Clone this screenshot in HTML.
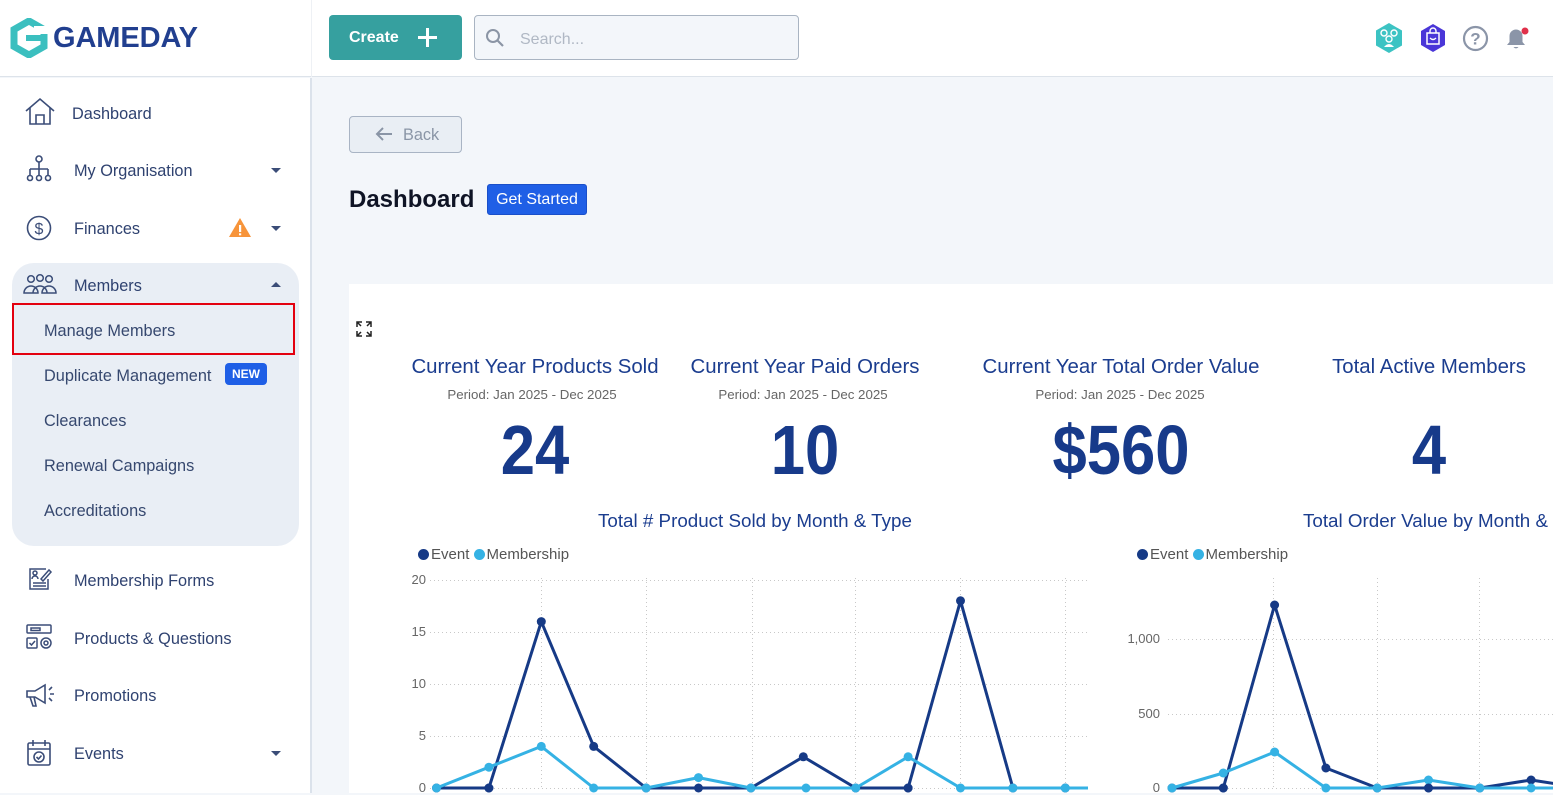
<!DOCTYPE html>
<html><head><meta charset="utf-8">
<style>
*{margin:0;padding:0;box-sizing:border-box}
body{width:1553px;height:793px;overflow:hidden;background:#f3f6fa;font-family:"Liberation Sans",sans-serif;position:relative}
.a{position:absolute;white-space:nowrap}
.nav{position:absolute;font-size:16.3px;color:#2f4270;line-height:20px;white-space:nowrap}
.sub{position:absolute;font-size:16.3px;color:#36486f;line-height:20px;white-space:nowrap}
.kt{position:absolute;font-size:20.4px;color:#1b3d8f;text-align:center;line-height:24px;white-space:nowrap}
.kp{position:absolute;font-size:13.3px;color:#666;text-align:center;line-height:16px;white-space:nowrap}
.kn{position:absolute;font-size:70px;font-weight:bold;color:#173a8a;text-align:center;line-height:70px;white-space:nowrap;transform:scaleX(0.88)}
.yl{position:absolute;font-size:13px;color:#666;text-align:right;line-height:14px;width:60px}
</style></head><body>

<!-- header -->
<div class="a" style="left:0;top:0;width:1553px;height:77px;background:#fff;border-bottom:1px solid #dde3ea"></div>
<div class="a" style="left:311px;top:0;width:1px;height:77px;background:#eef1f5"></div>
<!-- sidebar -->
<div class="a" style="left:0;top:78px;width:310px;height:715px;background:#fff"></div>
<div class="a" style="left:310px;top:78px;width:2px;height:715px;background:#dbe2eb"></div>

<!-- logo -->
<svg class="a" style="left:10px;top:18px" width="38" height="40" viewBox="0 0 38 40">
<polygon points="19,3 34,11.5 34,28.5 19,37 4,28.5 4,11.5" fill="none" stroke="#3bbfbf" stroke-width="7"/>
<rect x="16" y="17" width="18" height="6" fill="#3bbfbf"/>
<rect x="24" y="8" width="14" height="8" fill="#fff"/>
</svg>
<div class="a" style="left:53px;top:21px;font-size:29px;font-weight:bold;color:#213f8f;line-height:34px;letter-spacing:-0.1px">GAMEDAY</div>

<!-- create -->
<div class="a" style="left:329px;top:15px;width:133px;height:45px;background:#36a09f;border-radius:4px"></div>
<div class="a" style="left:349px;top:28px;font-size:16px;font-weight:bold;color:#fff;line-height:20px">Create</div>
<div class="a" style="left:418px;top:36px;width:19px;height:2.5px;background:#fff"></div>
<div class="a" style="left:426px;top:28px;width:2.5px;height:19px;background:#fff"></div>
<!-- search -->
<div class="a" style="left:474px;top:15px;width:325px;height:45px;border:1px solid #a9b4c2;border-radius:4px;background:#f3f6fa"></div>
<svg class="a" style="left:485px;top:28px" width="20" height="20"><circle cx="8" cy="8" r="6" fill="none" stroke="#8b95a5" stroke-width="2"/><line x1="12.5" y1="12.5" x2="18" y2="18" stroke="#8b95a5" stroke-width="2.2"/></svg>
<div class="a" style="left:520px;top:30px;font-size:16px;color:#b0b8c4;line-height:20px">Search...</div>

<!-- right icons -->
<svg class="a" style="left:1374px;top:22px" width="30" height="32" viewBox="0 0 30 32">
<polygon points="15,1 28,8.5 28,23.5 15,31 2,23.5 2,8.5" fill="#3cc3c3"/>
<circle cx="10" cy="11" r="3" fill="none" stroke="#fff" stroke-width="1.4"/><circle cx="20" cy="11" r="3" fill="none" stroke="#fff" stroke-width="1.4"/><circle cx="15" cy="17" r="3" fill="none" stroke="#fff" stroke-width="1.4"/>
<path d="M10 25 q5 -6 10 0" fill="#fff"/>
</svg>
<svg class="a" style="left:1419px;top:23px" width="28" height="30" viewBox="0 0 28 30">
<polygon points="14,1 26,8 26,22 14,29 2,22 2,8" fill="#4a36d8"/>
<rect x="8" y="10" width="12" height="11" fill="none" stroke="#fff" stroke-width="1.5"/>
<path d="M11 10 v-2 a3 3 0 0 1 6 0 v2" fill="none" stroke="#fff" stroke-width="1.4"/>
<path d="M11 15 q3 3 6 0" fill="none" stroke="#fff" stroke-width="1.3"/>
</svg>
<svg class="a" style="left:1462px;top:25px" width="27" height="27"><circle cx="13.5" cy="13.5" r="11.5" fill="none" stroke="#8b95a8" stroke-width="2.2"/><text x="13.5" y="19.5" font-family="Liberation Sans" font-size="17" font-weight="bold" fill="#8b95a8" text-anchor="middle">?</text></svg>
<svg class="a" style="left:1503px;top:24px" width="28" height="30"><path d="M4 21 h18 l-2.5 -3 v-6 a6.5 6.5 0 0 0 -13 0 v6 z" fill="#8b95a8"/><path d="M10.5 23 a3 3 0 0 0 5 0z" fill="#8b95a8"/><circle cx="22" cy="7" r="3.5" fill="#e0304a"/></svg>

<!-- sidebar nav -->
<svg class="a" style="left:24px;top:96px" width="32" height="32" viewBox="0 0 32 32" fill="none" stroke="#3b4d78" stroke-width="1.6"><path d="M2 15 L16 3 L30 15"/><path d="M6 12 v16 h20 v-16"/><path d="M12 28 v-9 h8 v9"/></svg>
<div class="nav" style="left:72px;top:104px">Dashboard</div>

<svg class="a" style="left:25px;top:155px" width="28" height="28" viewBox="0 0 28 28" fill="none" stroke="#3b4d78" stroke-width="1.6"><circle cx="14" cy="4" r="3"/><path d="M14 7 v7 M5 14 h18 M5 14 v6 M14 14 v6 M23 14 v6"/><circle cx="5" cy="23" r="2.5"/><circle cx="14" cy="23" r="2.5"/><circle cx="23" cy="23" r="2.5"/></svg>
<div class="nav" style="left:74px;top:161px">My Organisation</div>
<div class="a" style="left:271px;top:168px;width:0;height:0;border-left:5px solid transparent;border-right:5px solid transparent;border-top:5px solid #3b4d78"></div>

<svg class="a" style="left:26px;top:215px" width="26" height="26"><circle cx="13" cy="13" r="11.5" fill="none" stroke="#3b4d78" stroke-width="1.6"/><text x="13" y="19" font-family="Liberation Sans" font-size="16" fill="#3b4d78" text-anchor="middle">$</text></svg>
<div class="nav" style="left:74px;top:219px">Finances</div>
<svg class="a" style="left:228px;top:217px" width="24" height="21"><polygon points="12,1 23,20 1,20" fill="#f7943a"/><rect x="11" y="8" width="2.2" height="7" fill="#fff"/><rect x="11" y="16.3" width="2.2" height="2" fill="#fff"/></svg>
<div class="a" style="left:271px;top:226px;width:0;height:0;border-left:5px solid transparent;border-right:5px solid transparent;border-top:5px solid #3b4d78"></div>

<!-- members group -->
<div class="a" style="left:12px;top:263px;width:287px;height:283px;background:#e9eef5;border-radius:22px"></div>
<svg class="a" style="left:22px;top:273px" width="36" height="22" viewBox="0 0 36 22" fill="none" stroke="#3b4d78" stroke-width="1.5"><circle cx="9" cy="6" r="3.3"/><circle cx="18" cy="5" r="3.3"/><circle cx="27" cy="6" r="3.3"/><path d="M2 20 a7 7 0 0 1 14 0 z"/><path d="M11 20 a7 7 0 0 1 14 0"/><path d="M20 20 a7 7 0 0 1 14 0 z"/></svg>
<div class="nav" style="left:74px;top:276px">Members</div>
<div class="a" style="left:271px;top:282px;width:0;height:0;border-left:5px solid transparent;border-right:5px solid transparent;border-bottom:5px solid #3b4d78"></div>

<div class="a" style="left:12px;top:303px;width:283px;height:52px;border:2px solid #e3000f"></div>
<div class="sub" style="left:44px;top:321px">Manage Members</div>
<div class="sub" style="left:44px;top:366px">Duplicate Management</div>
<div class="a" style="left:225px;top:363px;width:42px;height:22px;background:#1f5fe6;border-radius:4px;color:#fff;font-size:12px;font-weight:bold;line-height:22px;text-align:center">NEW</div>
<div class="sub" style="left:44px;top:411px">Clearances</div>
<div class="sub" style="left:44px;top:456px">Renewal Campaigns</div>
<div class="sub" style="left:44px;top:501px">Accreditations</div>

<svg class="a" style="left:27px;top:566px" width="26" height="26" viewBox="0 0 26 26" fill="none" stroke="#3b4d78" stroke-width="1.5"><path d="M19 3 h-16 v20 h18 v-10"/><circle cx="8" cy="7" r="2"/><path d="M5 13 a3 3 0 0 1 6 0"/><path d="M14 13 l8 -9 l2 2 l-8 9 z"/><path d="M6 17 h13 M6 20 h13"/></svg>
<div class="nav" style="left:74px;top:571px">Membership Forms</div>

<svg class="a" style="left:26px;top:623px" width="28" height="30" viewBox="0 0 28 30" fill="none" stroke="#3b4d78" stroke-width="1.5"><rect x="1" y="2" width="24" height="8" rx="1"/><rect x="5" y="5" width="9" height="2.5"/><rect x="1" y="15" width="10" height="10" rx="1"/><path d="M3.5 20 l2 2 l3.5 -4"/><circle cx="20" cy="20" r="5"/><circle cx="20" cy="20" r="2"/></svg>
<div class="nav" style="left:74px;top:629px">Products &amp; Questions</div>

<svg class="a" style="left:24px;top:682px" width="32" height="28" viewBox="0 0 32 28" fill="none" stroke="#3b4d78" stroke-width="1.6"><path d="M3 9 h8 l10 -6 v18 l-10 -6 h-8 z"/><path d="M6 15 l3 9 h3 l-2 -9"/><path d="M25 8 l3 -3 M26 12 h4 M25 16 l3 3"/></svg>
<div class="nav" style="left:74px;top:686px">Promotions</div>

<svg class="a" style="left:26px;top:739px" width="26" height="28" viewBox="0 0 26 28" fill="none" stroke="#3b4d78" stroke-width="1.6"><rect x="2" y="4" width="22" height="22" rx="1.5"/><path d="M2 10 h22 M7 1 v6 M19 1 v6"/><circle cx="13" cy="18" r="5"/><path d="M10.5 18 l2 2 l3 -3.5"/></svg>
<div class="nav" style="left:74px;top:744px">Events</div>
<div class="a" style="left:271px;top:751px;width:0;height:0;border-left:5px solid transparent;border-right:5px solid transparent;border-top:5px solid #3b4d78"></div>

<!-- back button -->
<div class="a" style="left:349px;top:116px;width:113px;height:37px;border:1px solid #a9b4c4;border-radius:4px;background:#e9eef4"></div>
<svg class="a" style="left:374px;top:126px" width="20" height="16"><path d="M18 8 H3 M9 2 L3 8 L9 14" fill="none" stroke="#8a95a6" stroke-width="2"/></svg>
<div class="a" style="left:403px;top:125px;font-size:16.3px;color:#8a95a6;line-height:20px">Back</div>

<div class="a" style="left:349px;top:186px;font-size:24px;font-weight:bold;color:#0f1425;line-height:28px">Dashboard</div>
<div class="a" style="left:487px;top:184px;width:100px;height:31px;background:#1f5fe6;border:1px solid #1a4fc9;border-radius:3px;color:#fff;font-size:16px;line-height:29px;text-align:center">Get Started</div>

<!-- white panel -->
<div class="a" style="left:349px;top:284px;width:1204px;height:509px;background:#fff"></div>
<svg class="a" style="left:355px;top:320px" width="18" height="18" viewBox="0 0 18 18" fill="none" stroke="#222" stroke-width="1.5"><path d="M2 7 V2 H7 M2 2 L6 6"/><path d="M11 2 H16 V7 M16 2 L12 6"/><path d="M2 11 V16 H7 M2 16 L6 12"/><path d="M16 11 V16 H11 M16 16 L12 12"/></svg>

<!-- KPIs -->
<div class="kt" style="left:385px;top:355px;width:300px">Current Year Products Sold</div>
<div class="kp" style="left:382px;top:387px;width:300px">Period: Jan 2025 - Dec 2025</div>
<div class="kn" style="left:435px;top:415px;width:200px">24</div>

<div class="kt" style="left:655px;top:355px;width:300px">Current Year Paid Orders</div>
<div class="kp" style="left:653px;top:387px;width:300px">Period: Jan 2025 - Dec 2025</div>
<div class="kn" style="left:705px;top:415px;width:200px">10</div>

<div class="kt" style="left:971px;top:355px;width:300px">Current Year Total Order Value</div>
<div class="kp" style="left:970px;top:387px;width:300px">Period: Jan 2025 - Dec 2025</div>
<div class="kn" style="left:1021px;top:415px;width:200px">$560</div>

<div class="kt" style="left:1279px;top:355px;width:300px">Total Active Members</div>
<div class="kn" style="left:1329px;top:415px;width:200px">4</div>

<!-- chart titles / legends -->
<div class="a" style="left:598px;top:510px;font-size:18.8px;color:#1b3d8f;line-height:22px">Total # Product Sold by Month &amp; Type</div>
<div class="a" style="left:1303px;top:510px;font-size:18.8px;color:#1b3d8f;line-height:22px">Total Order Value by Month &amp; Type</div>

<div class="a" style="left:418px;top:547px;font-size:15px;color:#555;line-height:16px"><span style="display:inline-block;width:11px;height:11px;border-radius:50%;background:#163a86;vertical-align:-1px;margin-right:2px"></span>Event <span style="display:inline-block;width:11px;height:11px;border-radius:50%;background:#35b2e4;vertical-align:-1px;margin-right:2px"></span>Membership</div>
<div class="a" style="left:1137px;top:547px;font-size:15px;color:#555;line-height:16px"><span style="display:inline-block;width:11px;height:11px;border-radius:50%;background:#163a86;vertical-align:-1px;margin-right:2px"></span>Event <span style="display:inline-block;width:11px;height:11px;border-radius:50%;background:#35b2e4;vertical-align:-1px;margin-right:2px"></span>Membership</div>

<!-- y labels -->
<div class="yl" style="left:366px;top:573px">20</div>
<div class="yl" style="left:366px;top:625px">15</div>
<div class="yl" style="left:366px;top:677px">10</div>
<div class="yl" style="left:366px;top:729px">5</div>
<div class="yl" style="left:366px;top:781px">0</div>
<div class="yl" style="left:1100px;top:632px">1,000</div>
<div class="yl" style="left:1100px;top:707px">500</div>
<div class="yl" style="left:1100px;top:781px">0</div>

<svg class="a" style="left:0;top:0" width="1553" height="793">
<g stroke="#c8c8c8" stroke-width="1" stroke-dasharray="1 3">
<line x1="430" y1="580.5" x2="1088" y2="580.5"/>
<line x1="430" y1="632.5" x2="1088" y2="632.5"/>
<line x1="430" y1="684.5" x2="1088" y2="684.5"/>
<line x1="430" y1="736.5" x2="1088" y2="736.5"/>
<line x1="430" y1="788.5" x2="1088" y2="788.5"/>
<line x1="541.5" y1="578" x2="541.5" y2="788"/>
<line x1="646.5" y1="578" x2="646.5" y2="788"/>
<line x1="752.5" y1="578" x2="752.5" y2="788"/>
<line x1="855.5" y1="578" x2="855.5" y2="788"/>
<line x1="960.5" y1="578" x2="960.5" y2="788"/>
<line x1="1065.5" y1="578" x2="1065.5" y2="788"/>
<line x1="1168" y1="639.5" x2="1553" y2="639.5"/>
<line x1="1168" y1="714.5" x2="1553" y2="714.5"/>
<line x1="1168" y1="788.5" x2="1553" y2="788.5"/>
<line x1="1273.5" y1="578" x2="1273.5" y2="788"/>
<line x1="1377.5" y1="578" x2="1377.5" y2="788"/>
<line x1="1479.5" y1="578" x2="1479.5" y2="788"/>
</g>
<!-- chart 1 event -->
<g fill="#163a86">
<polyline fill="none" stroke="#163a86" stroke-width="3" stroke-linejoin="round" points="436.5,788 488.9,788 541.3,621.6 593.7,746.4 646.1,788 698.5,788 750.9,788 803.3,756.8 855.7,788 908.1,788 960.5,600.8 1012.9,788 1065.3,788"/>
<circle cx="436.5" cy="788" r="4.5"/><circle cx="488.9" cy="788" r="4.5"/><circle cx="541.3" cy="621.6" r="4.5"/><circle cx="593.7" cy="746.4" r="4.5"/><circle cx="646.1" cy="788" r="4.5"/><circle cx="698.5" cy="788" r="4.5"/><circle cx="750.9" cy="788" r="4.5"/><circle cx="803.3" cy="756.8" r="4.5"/><circle cx="855.7" cy="788" r="4.5"/><circle cx="908.1" cy="788" r="4.5"/><circle cx="960.5" cy="600.8" r="4.5"/><circle cx="1012.9" cy="788" r="4.5"/><circle cx="1065.3" cy="788" r="4.5"/>
</g>
<g fill="#35b2e4">
<polyline fill="none" stroke="#35b2e4" stroke-width="3" stroke-linejoin="round" points="436.5,788 488.9,767.2 541.3,746.4 593.7,788 646.1,788 698.5,777.6 750.9,788 803.3,788 855.7,788 908.1,756.8 960.5,788 1012.9,788 1065.3,788 1088,788"/>
<circle cx="436.5" cy="788" r="4.5"/><circle cx="488.9" cy="767.2" r="4.5"/><circle cx="541.3" cy="746.4" r="4.5"/><circle cx="593.7" cy="788" r="4.5"/><circle cx="646.1" cy="788" r="4.5"/><circle cx="698.5" cy="777.6" r="4.5"/><circle cx="750.9" cy="788" r="4.5"/><circle cx="806" cy="788" r="4.5"/><circle cx="855.7" cy="788" r="4.5"/><circle cx="908.1" cy="756.8" r="4.5"/><circle cx="960.5" cy="788" r="4.5"/><circle cx="1012.9" cy="788" r="4.5"/><circle cx="1065.3" cy="788" r="4.5"/>
</g>
<g fill="#163a86">
<circle cx="908.1" cy="788" r="4.5"/><circle cx="488.9" cy="788" r="4.5"/>
</g>
<!-- chart 2 -->
<g fill="#163a86">
<polyline fill="none" stroke="#163a86" stroke-width="3" stroke-linejoin="round" points="1172,788 1223.3,788 1274.6,605 1325.9,768 1377.2,788 1428.5,788 1479.8,788 1531.1,780 1582.4,788"/>
<circle cx="1172" cy="788" r="4.5"/><circle cx="1223.3" cy="788" r="4.5"/><circle cx="1274.6" cy="605" r="4.5"/><circle cx="1325.9" cy="768" r="4.5"/><circle cx="1377.2" cy="788" r="4.5"/><circle cx="1428.5" cy="788" r="4.5"/><circle cx="1479.8" cy="788" r="4.5"/><circle cx="1531.1" cy="780" r="4.5"/>
</g>
<g fill="#35b2e4">
<polyline fill="none" stroke="#35b2e4" stroke-width="3" stroke-linejoin="round" points="1172,788 1223.3,773 1274.6,752 1325.9,788 1377.2,788 1428.5,780 1479.8,788 1531.1,788 1582.4,788"/>
<circle cx="1172" cy="788" r="4.5"/><circle cx="1223.3" cy="773" r="4.5"/><circle cx="1274.6" cy="752" r="4.5"/><circle cx="1325.9" cy="788" r="4.5"/><circle cx="1377.2" cy="788" r="4.5"/><circle cx="1428.5" cy="780" r="4.5"/><circle cx="1479.8" cy="788" r="4.5"/><circle cx="1531.1" cy="788" r="4.5"/>
</g>
<g fill="#163a86"><circle cx="1223.3" cy="788" r="4.5"/><circle cx="1428.5" cy="788" r="4.5"/></g>
</svg>
</body></html>
